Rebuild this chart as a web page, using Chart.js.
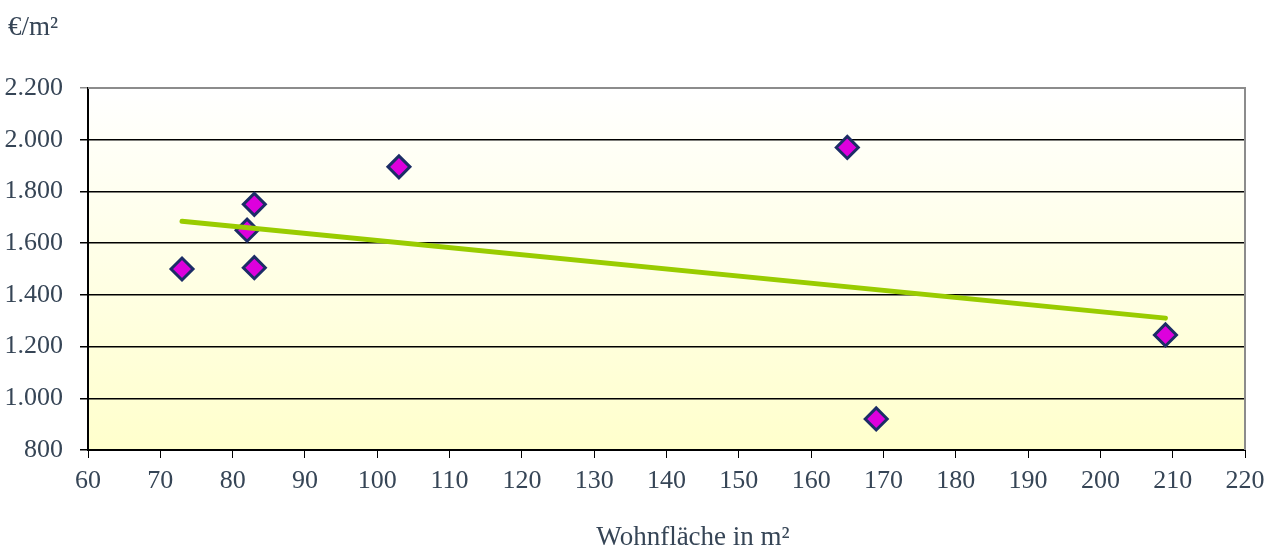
<!DOCTYPE html>
<html>
<head>
<meta charset="utf-8">
<script src="https://cdn.jsdelivr.net/npm/chart.js@4"></script>
<style>
  html, body { margin: 0; padding: 0; background: #fff; }
  #wrap { width: 1273px; height: 549px; }
</style>
</head>
<body>
<div id="wrap"><canvas id="chartWohnflaeche"></canvas></div>
<script>
// Wohnfläche vs. Preis pro m²
const flaeche = [73, 82, 83, 83, 103, 165, 169, 209];
const preisProM2 = [1500, 1650, 1750, 1505, 1895, 1970, 920, 1245];
const trendX = [73, 209];
const trendY = [1685, 1310];
const yTitel = '€/m²';
const xTitel = 'Wohnfläche in m²';

const textFarbe = '#364556';
const schrift = "'Liberation Serif', 'Times New Roman', serif";

const punkte = flaeche.map((x, i) => ({ x: x, y: preisProM2[i] }));
const trend = trendX.map((x, i) => ({ x: x, y: trendY[i] }));

const hintergrund = {
    id: 'hintergrund',
    beforeDraw(chart) {
        const { ctx, chartArea: a } = chart;
        const g = ctx.createLinearGradient(0, a.top, 0, a.bottom);
        g.addColorStop(0, '#ffffff');
        g.addColorStop(1, '#ffffcc');
        ctx.save();
        ctx.fillStyle = g;
        ctx.fillRect(a.left, a.top, a.right - a.left, a.bottom - a.top);
        ctx.restore();
    },
    afterDraw(chart) {
        const { ctx, chartArea: a } = chart;
        ctx.save();
        ctx.strokeStyle = '#8c8c8c';
        ctx.lineWidth = 2;
        ctx.beginPath();
        ctx.moveTo(a.left, a.top);
        ctx.lineTo(a.right, a.top);
        ctx.lineTo(a.right, a.bottom);
        ctx.stroke();
        ctx.fillStyle = textFarbe;
        ctx.font = '27px ' + schrift;
        ctx.textBaseline = 'middle';
        ctx.textAlign = 'left';
        ctx.fillText(yTitel, 8, 28);
        ctx.textAlign = 'center';
        ctx.fillText(xTitel, 693, 538);
        ctx.restore();
    }
};

const ctx = document.getElementById('chartWohnflaeche').getContext('2d');

const chart = new Chart(ctx, {
    data: {
        datasets: [{
            type: 'line',
            data: trend,
            borderColor: '#99cc00',
            borderWidth: 5,
            borderCapStyle: 'round',
            pointRadius: 0,
            order: 0
        }, {
            type: 'scatter',
            data: punkte,
            pointStyle: 'rectRot',
            pointRadius: 11,
            backgroundColor: '#dd00dd',
            borderColor: '#1c2d66',
            borderWidth: 3,
            order: 1
        }]
    },
    options: {
        responsive: true,
        maintainAspectRatio: false,
        animation: false,
        layout: { padding: { top: 88, right: 28, left: 0, bottom: 0 } },
        plugins: {
            legend: { display: false },
            tooltip: { enabled: false }
        },
        scales: {
            x: {
                type: 'linear',
                min: 60,
                max: 220,
                afterFit(s) { s.height = 99; },
                ticks: {
                    stepSize: 10,
                    color: textFarbe,
                    font: { family: schrift, size: 26 },
                    padding: 8
                },
                grid: {
                    drawOnChartArea: false,
                    drawTicks: true,
                    tickLength: 8,
                    color: '#000'
                },
                border: { color: '#000', width: 2 }
            },
            y: {
                min: 800,
                max: 2200,
                afterFit(s) { s.width = 88; },
                ticks: {
                    stepSize: 200,
                    color: textFarbe,
                    font: { family: schrift, size: 26 },
                    padding: 17,
                    callback: (v) => v.toLocaleString('de-DE')
                },
                grid: {
                    color: (c) => c.tick && c.tick.value === 2200 ? '#8c8c8c' : '#000',
                    lineWidth: 1.5,
                    tickLength: 8
                },
                border: { color: '#000', width: 2 }
            }
        }
    },
    plugins: [hintergrund]
});
</script>
</body>
</html>
